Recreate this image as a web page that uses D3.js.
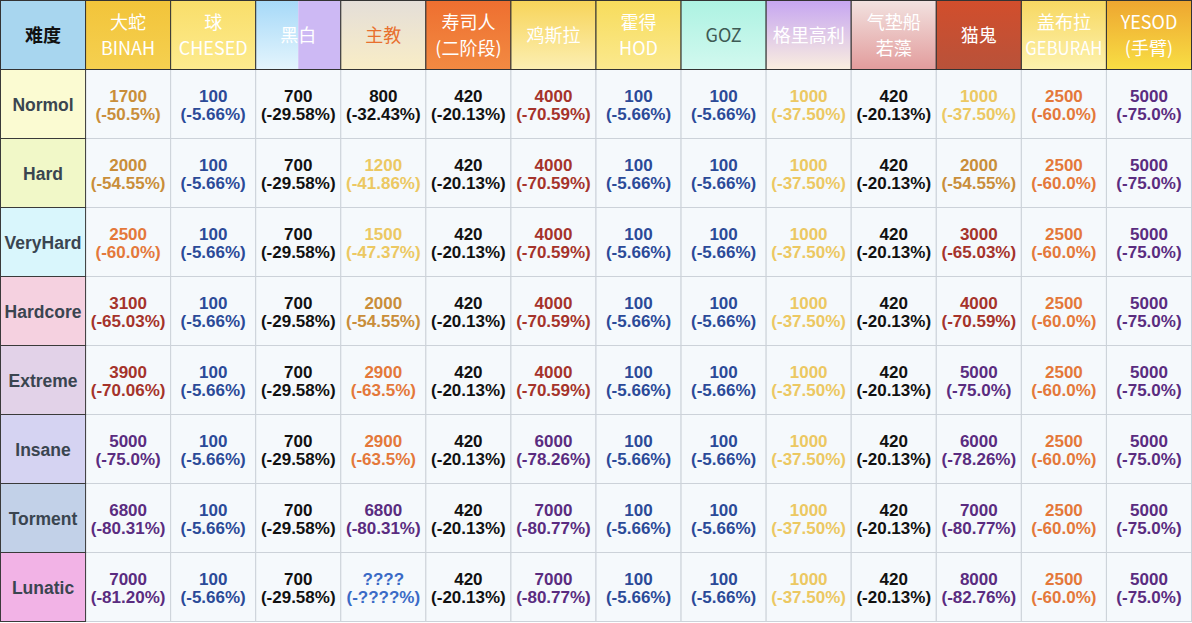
<!DOCTYPE html>
<html><head><meta charset="utf-8">
<script src="https://cdn.jsdelivr.net/npm/d3@7/dist/d3.min.js"></script>
<style>html,body{margin:0;padding:0;background:#fff}svg{display:block}</style>
</head><body><div id="chart"></div>
<script>
const corner = "难度";
const difficulties = ["Normol","Hard","VeryHard","Hardcore","Extreme","Insane","Torment","Lunatic"];
const bossLine1 = ["大蛇","球","黑白","主教","寿司人","鸡斯拉","霍得","GOZ","格里高利","气垫船","猫鬼","盖布拉","YESOD"];
const bossLine2 = ["BINAH","CHESED","","","(二阶段)","","HOD","","","若藻","","GEBURAH","(手臂)"];

const binahVals = [1700,2000,2500,3100,3900,5000,6800,7000];
const binahPct  = ["-50.5%","-54.55%","-60.0%","-65.03%","-70.06%","-75.0%","-80.31%","-81.20%"];
const chesedVals = [100,100,100,100,100,100,100,100];
const chesedPct  = Array(8).fill("-5.66%");
const heibaiVals = [700,700,700,700,700,700,700,700];
const heibaiPct  = Array(8).fill("-29.58%");
const bishopVals = [800,1200,1500,2000,2900,2900,6800,"????"];
const bishopPct  = ["-32.43%","-41.86%","-47.37%","-54.55%","-63.5%","-63.5%","-80.31%","-????%"];
const sushiVals = [420,420,420,420,420,420,420,420];
const sushiPct  = Array(8).fill("-20.13%");
const gozillaVals = [4000,4000,4000,4000,4000,6000,7000,7000];
const gozillaPct  = ["-70.59%","-70.59%","-70.59%","-70.59%","-70.59%","-78.26%","-80.77%","-80.77%"];
const hodVals = [100,100,100,100,100,100,100,100];
const hodPct  = Array(8).fill("-5.66%");
const gozVals = [100,100,100,100,100,100,100,100];
const gozPct  = Array(8).fill("-5.66%");
const gregVals = [1000,1000,1000,1000,1000,1000,1000,1000];
const gregPct  = Array(8).fill("-37.50%");
const hoverVals = [420,420,420,420,420,420,420,420];
const hoverPct  = Array(8).fill("-20.13%");
const catVals = [1000,2000,3000,4000,5000,6000,7000,8000];
const catPct  = ["-37.50%","-54.55%","-65.03%","-70.59%","-75.0%","-78.26%","-80.77%","-82.76%"];
const geburahVals = [2500,2500,2500,2500,2500,2500,2500,2500];
const geburahPct  = Array(8).fill("-60.0%");
const yesodVals = [5000,5000,5000,5000,5000,5000,5000,5000];
const yesodPct  = Array(8).fill("-75.0%");

const allVals = [binahVals,chesedVals,heibaiVals,bishopVals,sushiVals,gozillaVals,hodVals,gozVals,gregVals,hoverVals,catVals,geburahVals,yesodVals];
const allPct  = [binahPct,chesedPct,heibaiPct,bishopPct,sushiPct,gozillaPct,hodPct,gozPct,gregPct,hoverPct,catPct,geburahPct,yesodPct];

// styling
const W = 1192, H = 623;
const headerGrad = [
  ["#f2c43a","#f5d050"],["#f9de6a","#fdeb8e"],null,["#e4ded8","#f9edc6"],["#ee6f30","#f28a42"],
  ["#f7d45a","#fcefb2"],["#f7dc5c","#fbe98e"],["#adf2e2","#d2f9ef"],["#c6a6f1","#faeedf"],
  ["#f2e2e0","#e29c9c"],["#d24e2c","#b8523a"],["#f7d862","#fdf2ae"],["#eea630","#f8de44"]
];
const headerText = ["#fff","#fff","#fff","#e8702e","#fff","#fff","#fff","#3e5a54","#fff","#fff","#fff","#fff","#fff"];
const rowBg = ["#fbfbd2","#f1f8c8","#d9f6fc","#f5d1e0","#e2d2e8","#d5d3f2","#c2d1e8","#f2b3e6"];

const color = v => {
  if (typeof v !== "number") return "#3a6ac6";
  return d3.scaleThreshold().domain([400,900,1600,2400,2950,4500])
    .range(["#2b4a98","#111111","#ecc862","#c98e3a","#e4783a","#a5332b","#5a2c80"])(v);
};

const svg = d3.select("#chart").append("svg").attr("width",W).attr("height",H);
const defs = svg.append("defs");
headerGrad.forEach((g,i)=>{
  if(!g) return;
  const lg = defs.append("linearGradient").attr("id","hg"+i).attr("x1",0).attr("y1",0).attr("x2",0).attr("y2",1);
  lg.append("stop").attr("offset","0%").attr("stop-color",g[0]);
  lg.append("stop").attr("offset","100%").attr("stop-color",g[1]);
});
const lgb = defs.append("linearGradient").attr("id","hbBlue").attr("x1",0).attr("y1",0).attr("x2",0).attr("y2",1);
lgb.append("stop").attr("offset","0%").attr("stop-color","#a6d9f8");
lgb.append("stop").attr("offset","100%").attr("stop-color","#e4f5fd");

const cols = ["__corner"].concat(bossLine1.map((d,i)=>"c"+i));
const x = d3.scaleBand().domain(cols).range([0.5,W-0.5]);
const rows = ["__head"].concat(difficulties);
const y = d3.scaleBand().domain(rows).range([0.5,H-1.5]);
const cw = x.bandwidth(), rh = y.bandwidth();

// body cells
const body = svg.append("g");
difficulties.forEach((r,ri)=>{
  bossLine1.forEach((b,ci)=>{
    const g = body.append("g").attr("transform",`translate(${x("c"+ci)},${y(r)})`);
    g.append("rect").attr("width",cw).attr("height",rh).attr("fill","#f5f9fc").attr("stroke","#ccd2d9").attr("stroke-width",1);
    const v = allVals[ci][ri], p = allPct[ci][ri];
    const c = color(v);
    const t = g.append("text").attr("text-anchor","middle").attr("font-family","Liberation Sans, Arial, sans-serif")
      .attr("font-size",17).attr("font-weight","bold").attr("fill",c);
    t.append("tspan").attr("x",cw/2).attr("y",rh/2-8).attr("dominant-baseline","central").text(v);
    t.append("tspan").attr("x",cw/2).attr("y",rh/2+10).attr("dominant-baseline","central").text("("+p+")");
  });
});

// row labels
difficulties.forEach((r,ri)=>{
  const g = svg.append("g").attr("transform",`translate(${x("__corner")},${y(r)})`);
  g.append("rect").attr("width",cw).attr("height",rh).attr("fill",rowBg[ri]).attr("stroke","#3a3a3a").attr("stroke-width",1);
  g.append("text").attr("x",cw/2).attr("y",rh/2+1).attr("text-anchor","middle").attr("dominant-baseline","central")
    .attr("font-family","Liberation Sans, Arial, sans-serif").attr("font-size",17.5).attr("font-weight","bold")
    .attr("fill","#3a4550").text(r);
});

// header
const hg = svg.append("g");
const c0 = hg.append("g").attr("transform",`translate(${x("__corner")},${y("__head")})`);
c0.append("rect").attr("width",cw).attr("height",rh).attr("fill","#a8d6ef").attr("stroke","#333").attr("stroke-width",1);
c0.append("text").attr("x",cw/2).attr("y",rh/2-1).attr("text-anchor","middle").attr("dominant-baseline","central")
  .attr("font-family","Noto Sans CJK SC, sans-serif").attr("font-size",18).attr("font-weight","bold").attr("fill","#111").text(corner);

bossLine1.forEach((b,ci)=>{
  const g = hg.append("g").attr("transform",`translate(${x("c"+ci)},${y("__head")})`);
  if (headerGrad[ci]) {
    g.append("rect").attr("width",cw).attr("height",rh).attr("fill",`url(#hg${ci})`);
  } else {
    g.append("rect").attr("width",cw/2).attr("height",rh).attr("fill","url(#hbBlue)");
    g.append("rect").attr("x",cw/2).attr("width",cw/2).attr("height",rh).attr("fill","#cdb9f4");
  }
  g.append("rect").attr("width",cw).attr("height",rh).attr("fill","none").attr("stroke","#333").attr("stroke-width",1);
  const l2 = bossLine2[ci];
  const tx = g.append("text").attr("text-anchor","middle").attr("font-family","Noto Sans CJK SC, sans-serif")
    .attr("font-size",18).attr("fill",headerText[ci]);
  if (l2) {
    tx.append("tspan").attr("x",cw/2).attr("y",rh/2-14).attr("dominant-baseline","central").text(b);
    const s2 = tx.append("tspan").attr("x",cw/2).attr("y",rh/2+12).attr("dominant-baseline","central").text(l2);
    const len = s2.node().getComputedTextLength();
    if (len > cw - 8) s2.attr("textLength", cw - 8).attr("lengthAdjust","spacingAndGlyphs");
  } else {
    tx.append("tspan").attr("x",cw/2).attr("y",rh/2-1).attr("dominant-baseline","central").text(b);
  }
});
</script></body></html>
